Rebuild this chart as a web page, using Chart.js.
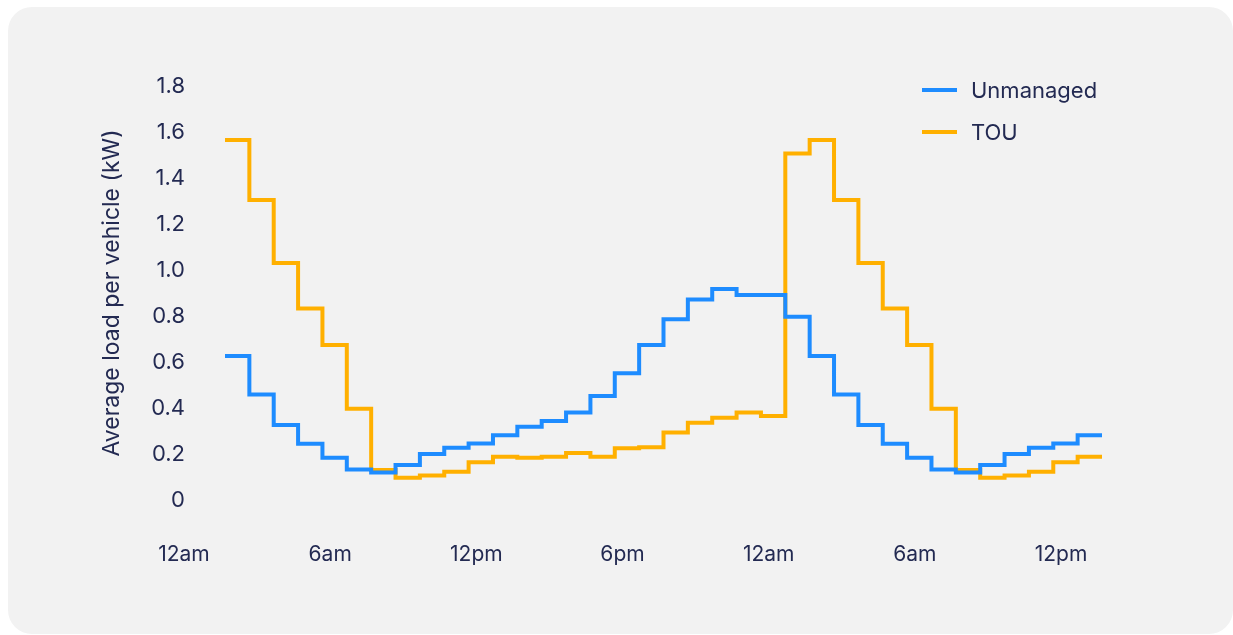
<!DOCTYPE html>
<html>
<head>
<meta charset="utf-8">
<script src="https://cdn.jsdelivr.net/npm/chart.js@4.4.1/dist/chart.umd.min.js"></script>
<style>
  html, body { margin: 0; padding: 0; background: #ffffff; }
  body { width: 1233px; height: 635px; position: relative; overflow: hidden; font-family: Inter, "Open Sans", sans-serif; }
  #card { position: absolute; left: 8px; top: 7px; width: 1225px; height: 627px; border-radius: 24px; background: #f2f2f2; }
  #wrap { position: absolute; left: 0; top: 0; width: 1233px; height: 635px; }
  .legend { position: absolute; left: 922px; font-size: 22px; color: #232a52; }
  .legend .item { position: absolute; left: 0; height: 26px; white-space: nowrap; }
  .legend .sw { position: absolute; left: 0; top: 11px; width: 35px; height: 4px; }
  .legend .lbl { position: absolute; left: 49px; top: 0; line-height: 26px; }
</style>
</head>
<body>
<div id="card"></div>
<div id="wrap"><canvas id="c"></canvas></div>
<div class="legend" id="legend"></div>
<script>
// Hours from midnight (each value covers one hour)
const hours = [0,1,2,3,4,5,6,7,8,9,10,11,12,13,14,15,16,17,18,19,20,21,22,23,24,25,26,27,28,29,30,31,32,33,34,35];
const unmanaged = [0.626,0.459,0.326,0.245,0.184,0.133,0.120,0.152,0.200,0.227,0.246,0.281,
                   0.319,0.343,0.380,0.452,0.551,0.674,0.786,0.872,0.917,0.891,0.891,0.797,
                   0.626,0.459,0.326,0.245,0.184,0.133,0.120,0.152,0.200,0.227,0.246,0.281];
const tou = [1.565,1.304,1.030,0.833,0.674,0.397,0.130,0.097,0.106,0.123,0.164,0.188,
             0.184,0.188,0.204,0.188,0.225,0.229,0.293,0.336,0.358,0.380,0.365,1.507,
             1.565,1.304,1.030,0.833,0.674,0.397,0.130,0.097,0.106,0.123,0.164,0.188];
const xTickLabels = ["12am","6am","12pm","6pm","12am","6am","12pm"];
const seriesNames = ["Unmanaged","TOU"];
const seriesColors = ["#1e8cff","#ffb000"];

const textColor = "#232a52";
const fontFamily = "Inter, 'Open Sans', sans-serif";

function toPoints(vals) {
  const pts = hours.map((h, i) => ({ x: h, y: vals[i] }));
  // close the final hour interval
  pts.push({ x: hours[hours.length - 1] + 1, y: vals[vals.length - 1] });
  return pts;
}

const ctx = document.getElementById('c');
new Chart(ctx, {
  type: 'line',
  data: {
    datasets: [
      { label: seriesNames[0], data: toPoints(unmanaged), borderColor: seriesColors[0], backgroundColor: seriesColors[0],
        borderWidth: 4, stepped: 'before', pointRadius: 0, fill: false },
      { label: seriesNames[1], data: toPoints(tou), borderColor: seriesColors[1], backgroundColor: seriesColors[1],
        borderWidth: 4, stepped: 'before', pointRadius: 0, fill: false }
    ]
  },
  options: {
    responsive: true,
    maintainAspectRatio: false,
    animation: false,
    layout: { padding: { left: 94, top: 86, right: 131, bottom: 65 } },
    plugins: { legend: { display: false }, tooltip: { enabled: false } },
    scales: {
      x: {
        type: 'linear', min: 0, max: 36,
        grid: { display: false, drawTicks: false }, border: { display: false },
        afterFit(scale) { scale.height = 70; },
        ticks: {
          stepSize: 6, padding: 42, labelOffset: -41, maxRotation: 0, autoSkip: false,
          color: textColor, font: { family: fontFamily, size: 21 },
          callback: (v) => xTickLabels[Math.round(v / 6)]
        }
      },
      y: {
        min: 0, max: 1.8,
        grid: { display: false, drawTicks: false }, border: { display: false },
        afterFit(scale) { scale.width = 131; },
        ticks: {
          stepSize: 0.2, padding: 40,
          color: textColor, font: { family: fontFamily, size: 22 },
          callback: (v) => { const r = Math.round(v * 10) / 10; return r === 0 ? "0" : r.toFixed(1); }
        },
        title: { display: true, text: "Average load per vehicle (kW)", color: textColor,
                 font: { family: fontFamily, size: 23 }, padding: { top: 4, bottom: 4 } }
      }
    }
  }
});

const leg = document.getElementById('legend');
const legTops = [77, 119];
seriesNames.forEach((n, i) => {
  const it = document.createElement('div');
  it.className = 'item';
  it.style.top = legTops[i] + 'px';
  it.innerHTML = '<div class="sw" style="background:' + seriesColors[i] + '"></div><div class="lbl">' + n + '</div>';
  leg.appendChild(it);
});
</script>
</body>
</html>
